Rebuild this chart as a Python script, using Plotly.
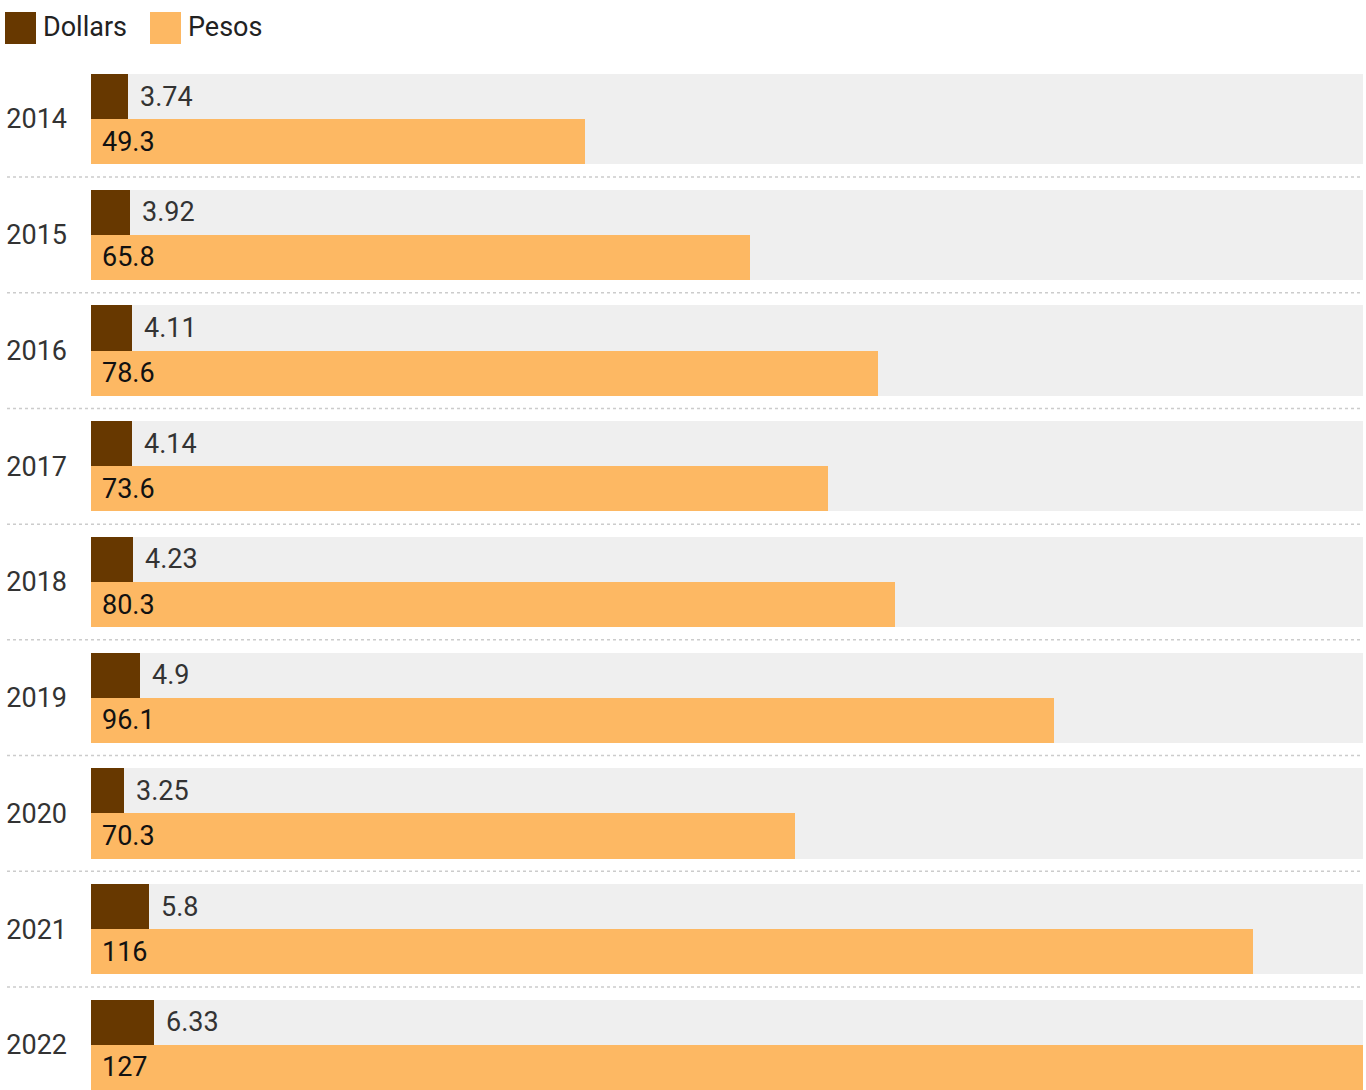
import plotly.graph_objects as go

# Values per year
years = ["2014", "2015", "2016", "2017", "2018", "2019", "2020", "2021", "2022"]
dollars = [3.74, 3.92, 4.11, 4.14, 4.23, 4.9, 3.25, 5.8, 6.33]
pesos = [49.3, 65.8, 78.6, 73.6, 80.3, 96.1, 70.3, 116, 127]
dollar_labels = ["3.74", "3.92", "4.11", "4.14", "4.23", "4.9", "3.25", "5.8", "6.33"]
peso_labels = ["49.3", "65.8", "78.6", "73.6", "80.3", "96.1", "70.3", "116", "127"]

C_DOLLAR = "#673800"
C_PESO = "#fdb863"
C_BAND = "#efefef"
FONT = "Roboto"
FS = 27

W, H = 1366, 1090
ML, MR, MT, MB = 91, 3, 74, 0
HALF = 0.389
x_max = max(pesos)

pos = list(range(len(years)))

fig = go.Figure()

# Background band behind each year's pair of bars
fig.add_trace(go.Bar(
    y=pos, x=[x_max] * len(years), orientation="h",
    width=2 * HALF, marker=dict(color=C_BAND, line=dict(width=0)),
    hoverinfo="skip", showlegend=False,
))
fig.add_trace(go.Bar(
    y=pos, x=dollars, orientation="h", name="Dollars",
    offset=-HALF, width=HALF,
    marker=dict(color=C_DOLLAR, line=dict(width=0)),
    showlegend=False,
))
fig.add_trace(go.Bar(
    y=pos, x=pesos, orientation="h", name="Pesos",
    offset=0, width=HALF,
    marker=dict(color=C_PESO, line=dict(width=0)),
    showlegend=False,
))

annotations = []
for i in pos:
    annotations.append(dict(
        x=dollars[i], y=i - HALF / 2, xref="x", yref="y",
        text=dollar_labels[i], showarrow=False, xanchor="left", yanchor="middle",
        xshift=10, font=dict(family=FONT, size=FS, color="#333333"),
    ))
    annotations.append(dict(
        x=0, y=i + HALF / 2, xref="x", yref="y",
        text=peso_labels[i], showarrow=False, xanchor="left", yanchor="middle",
        xshift=9, font=dict(family=FONT, size=FS, color="#111111"),
    ))

# Legend drawn as swatches + labels at the top left
pw = W - ML - MR
ph = H - MT - MB
def px_x(p):
    return (p - ML) / pw
def px_y(p):
    return 1 - (p - MT) / ph

shapes = []
legend_items = [("Dollars", C_DOLLAR, 5), ("Pesos", C_PESO, 150)]
for label, col, x0 in legend_items:
    shapes.append(dict(
        type="rect", xref="paper", yref="paper",
        x0=px_x(x0), x1=px_x(x0 + 31), y0=px_y(44), y1=px_y(12),
        fillcolor=col, line=dict(width=0),
    ))
    annotations.append(dict(
        x=px_x(x0 + 36), y=px_y(27), xref="paper", yref="paper",
        text=label, showarrow=False, xanchor="left", yanchor="middle",
        font=dict(family=FONT, size=FS, color="#222222"),
    ))

# Dotted separators between years
for i in pos[:-1]:
    shapes.append(dict(
        type="line", xref="paper", yref="y",
        x0=px_x(7), x1=px_x(1363), y0=i + 0.5, y1=i + 0.5,
        line=dict(color="#cccccc", width=1.5, dash="dot"),
    ))

fig.update_layout(
    width=W, height=H,
    margin=dict(l=ML, r=MR, t=MT, b=MB, pad=0),
    barmode="overlay",
    bargap=0,
    plot_bgcolor="white", paper_bgcolor="white",
    font=dict(family=FONT, size=FS, color="#333333"),
    xaxis=dict(range=[0, x_max], visible=False, fixedrange=True),
    yaxis=dict(
        range=[len(years) - 1 + HALF, -HALF],
        tickvals=pos, ticktext=years,
        showgrid=False, zeroline=False, showline=False,
        ticks="", ticklabelstandoff=23,
        tickfont=dict(family=FONT, size=FS, color="#333333"),
    ),
    annotations=annotations,
    shapes=shapes,
)

fig.write_html("out.html")
